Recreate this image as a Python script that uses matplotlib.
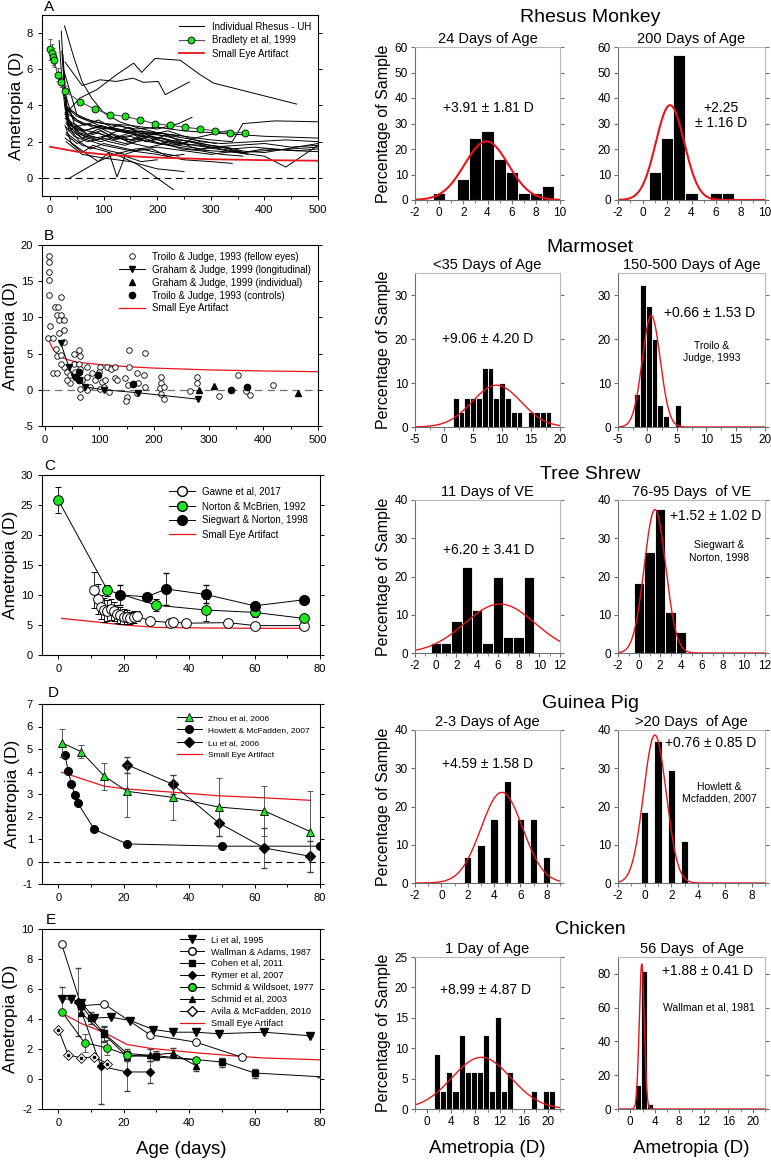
import numpy as np
import matplotlib
matplotlib.use('Agg')
import matplotlib.pyplot as plt
from matplotlib.ticker import AutoMinorLocator
from matplotlib.lines import Line2D

plt.rcParams['font.family'] = ['Liberation Sans', 'DejaVu Sans']
plt.rcParams['axes.unicode_minus'] = False

# ---------------- data: left column (ametropia vs age) ----------------
# A - rhesus monkey, individual UH animals (age in days, ametropia in D)
rhesus_uh_age = [
    [27, 45, 60, 78, 100, 130, 160, 200, 240],
    [21, 25, 30, 35, 50, 70, 90, 120, 150, 180, 210],
    [17, 22, 28, 35, 60, 90, 120, 150, 190, 230, 260],
    [28, 55, 87, 124, 156, 171, 196, 243, 280, 305, 460],
    [28, 60, 93, 124, 155, 174, 202, 215, 260],
    [30, 60, 100, 150, 200, 250, 300, 340, 360, 420, 500],
    [25, 50, 80, 120, 160, 200, 250, 300, 350, 400, 450, 500],
    [30, 45, 70, 100, 140, 180, 220, 260, 300, 350, 400, 440, 460, 500],
    [34, 60, 90, 120, 160, 200, 250, 300, 350, 400, 500],
    [30, 60, 100, 130, 160, 190, 230],
    [28, 60, 90, 110, 125, 140, 170, 200],
    [30, 60, 100, 150, 200, 250],
    [30, 60, 100, 150, 200, 250, 300, 340],
    [28, 60, 100, 150, 200, 240, 265],
    [22, 30, 50, 80, 110, 140, 170, 200, 230, 260, 300, 340, 380, 420, 460, 500],
    [25, 35, 55, 85, 120, 160, 200, 240, 280, 320, 360, 400, 450, 500],
    [30, 45, 65, 95, 130, 170, 210, 250, 290, 330, 370],
    [28, 40, 60, 90, 120, 150, 180, 210, 240, 280, 320, 360, 400, 460, 500],
    [26, 35, 55, 75, 100, 130, 160, 190, 220, 250],
    [28, 45, 70, 100, 130, 160, 190, 230, 270, 310],
    [24, 32, 50, 70, 95, 125, 155, 185, 215, 245, 280, 320, 360],
    [30, 50, 80, 110, 140, 170, 200, 230, 260, 300, 350, 400, 450, 500],
    [32, 50, 75, 100, 130, 160, 190, 220, 250, 280, 320, 380, 440, 500],
    [28, 40, 60, 80, 110, 140, 170, 200, 240],
    [26, 34, 50, 70, 95, 120, 150, 180, 210, 240, 270, 300, 330],
    [30, 55, 85, 115, 145, 175, 205, 235, 265, 295],
    [29, 38, 58, 88, 118, 148, 178, 208, 238, 268, 298, 328, 358],
    [25, 30, 45, 65, 90, 115, 140, 165, 190],
]
rhesus_uh_ame = [
    [8.4, 6.6, 5.3, 4.4, 3.6, 3.1, 2.8, 2.5, 2.3],
    [8.1, 6.0, 3.5, 2.6, 2.9, 2.4, 2.7, 2.2, 2.5, 2.0, 2.3],
    [7.6, 5.5, 3.8, 3.0, 2.6, 2.8, 2.4, 2.1, 2.3, 2.0, 1.8],
    [3.5, 4.4, 4.87, 5.7, 6.34, 5.83, 6.6, 6.5, 5.7, 5.24, 4.08],
    [6.4, 5.1, 5.42, 5.33, 5.51, 5.28, 5.33, 4.6, 5.3],
    [3.6, 3.0, 2.8, 2.6, 2.5, 2.3, 2.1, 2.0, 3.0, 3.15, 3.1],
    [6.0, 3.5, 3.1, 2.9, 2.7, 2.8, 2.6, 2.5, 2.4, 2.3, 2.25, 2.2],
    [2.8, 2.3, 2.0, 2.2, 1.9, 2.1, 1.8, 1.6, 1.5, 1.4, 1.2, 0.6, 1.0, 1.8],
    [-0.05, 0.4, 0.9, 1.3, 1.6, 1.7, 1.5, 1.3, 1.5, 1.4, 1.9],
    [2.5, 1.8, 1.5, 1.2, 0.8, 0.2, -0.65],
    [2.2, 1.5, 0.9, 1.4, 0.05, 1.2, 0.9, 1.0],
    [2.0, 1.3, 1.1, 0.9, 0.5, 0.35],
    [3.0, 2.2, 1.8, 1.5, 1.3, 1.0, 0.9, 0.8],
    [4.0, 3.3, 3.0, 2.9, 2.7, 3.0, 3.35],
    [7.0, 3.8, 3.2, 2.8, 2.7, 2.5, 2.6, 2.4, 2.2, 2.0, 1.8, 1.6, 1.7, 1.6, 1.5, 1.45],
    [5.5, 3.2, 2.7, 2.5, 2.2, 2.4, 2.1, 1.9, 1.8, 1.6, 1.4, 1.5, 1.6, 1.7],
    [4.5, 3.0, 2.6, 2.9, 2.6, 2.3, 2.2, 1.9, 1.7, 1.5, 1.3],
    [3.6, 2.6, 2.2, 2.5, 2.1, 2.3, 2.0, 2.2, 1.8, 1.6, 1.7, 1.4, 1.6, 1.5, 1.6],
    [5.0, 2.8, 2.0, 1.6, 1.9, 1.7, 1.5, 1.6, 1.2, 1.3],
    [3.3, 2.8, 3.0, 2.7, 2.9, 2.6, 2.4, 2.3, 2.1, 1.9],
    [6.8, 3.4, 2.5, 2.2, 2.0, 2.3, 1.9, 1.7, 1.9, 1.6, 1.5, 1.3, 1.2],
    [2.4, 1.9, 2.3, 2.0, 1.8, 2.1, 1.9, 1.8, 2.0, 1.7, 1.8, 1.9, 1.7, 1.8],
    [3.9, 3.4, 3.1, 2.8, 2.6, 2.5, 2.4, 2.6, 2.3, 2.0, 1.9, 2.0, 2.1, 2.0],
    [2.9, 1.9, 1.4, 1.8, 1.5, 1.3, 1.6, 1.4, 1.2],
    [4.8, 3.0, 2.7, 2.4, 2.6, 2.2, 2.1, 2.4, 2.0, 1.8, 2.2, 2.4, 2.6],
    [3.1, 2.5, 2.2, 2.4, 2.0, 2.2, 1.9, 2.1, 1.7, 1.5],
    [3.4, 3.0, 2.4, 2.1, 2.5, 2.8, 2.3, 2.5, 2.1, 2.0, 1.8, 1.7, 1.5],
    [5.8, 4.0, 3.2, 2.9, 3.2, 2.8, 2.6, 2.4, 2.5],
]
bradley_age = [0, 3, 6, 8, 14, 21, 28, 56, 84, 112, 140, 168, 196, 224, 252, 280, 308, 336, 364]
bradley_ame = [7.1, 6.9, 6.7, 6.5, 5.7, 5.3, 4.8, 4.2, 3.8, 3.5, 3.4, 3.2, 3.0, 2.9, 2.8, 2.7, 2.6, 2.5, 2.5]
bradley_err = [0.6, 0.5, 0.45, 0.4, 0.35, 0.3, 0.3, 0, 0, 0, 0, 0, 0, 0, 0, 0, 0, 0, 0]
artifact_a_age = [0, 50, 100, 150, 200, 250, 300, 400, 500]
artifact_a_ame = [1.72, 1.45, 1.3, 1.2, 1.12, 1.08, 1.03, 0.98, 0.95]

# B - marmoset
troilo_fellow_age = [7, 7, 7, 7, 7, 10, 6, 15, 19, 24, 29, 22, 29, 26, 35, 35, 27, 35, 21, 23,
                     16, 23, 29, 35, 29, 41, 47, 47, 53, 53, 62, 65, 62, 65, 56, 56, 68, 65,
                     65, 78, 77, 86, 102, 100, 92, 83, 105, 111, 108, 114, 122, 129, 129, 132,
                     118, 147, 152, 150, 149, 155, 155, 168, 170, 168, 184, 181, 184, 212, 213,
                     211, 213, 218, 219, 265, 278, 278, 319, 354, 369, 375, 418, 102, 77, 41]
troilo_fellow_ame = [18.5, 17.6, 16.3, 15.1, 13.1, 8.8, 7.1, 7.1, 11.5, 11.5, 12.8, 10.3, 10.3,
                     9.6, 9.6, 8.2, 7.8, 6.6, 5.7, 4.6, 2.3, 2.3, 4.8, 3.2, 3.6, 2.5, 2.0, 0.9,
                     3.6, 5.0, 5.5, 4.6, 3.6, 2.9, 2.5, 1.7, 1.3, 0.05, -1.06, 3.1, 1.7, 2.3,
                     3.1, 2.5, 1.3, 0.4, 1.1, 1.3, 0.4, 3.2, 2.9, 3.2, 1.6, 1.3, -0.3, 1.6, 0.6,
                     -1.0, -1.5, 5.5, 3.2, 2.3, 0.9, -0.5, 5.1, 2.0, 0.4, 1.8, 0.9, 0.2, -0.6,
                     -1.3, 0.4, -0.1, 1.8, 0.9, -0.8, 2.1, -0.1, -0.7, 0.6, 0.05, -0.05, 1.3]
graham_long_age = [29, 44, 53, 58, 62, 74, 108, 170, 280]
graham_long_ame = [6.5, 3.2, 1.7, 1.6, 1.4, 0.4, 0.0, -0.4, -1.3]
graham_ind_age = [283, 310, 463]
graham_ind_ame = [0.0, 0.55, -0.4]
troilo_ctrl_age = [62, 62, 98, 162, 341, 370]
troilo_ctrl_ame = [2.4, 1.4, 2.1, 0.8, 0.0, 0.4]
artifact_b_age = [7, 15, 25, 40, 60, 100, 150, 200, 300, 400, 500]
artifact_b_ame = [6.9, 5.6, 4.8, 4.2, 3.8, 3.5, 3.2, 3.0, 2.75, 2.6, 2.5]

# C - tree shrew (days of visual experience)
gawne_age = [11, 12, 13, 14, 15, 16, 17, 18, 19, 20, 21, 22, 23, 24, 28, 34, 35, 39, 52, 60, 75]
gawne_ame = [10.8, 9.4, 8.0, 7.5, 7.4, 7.6, 7.3, 6.9, 6.6, 6.4, 6.3, 6.2, 6.4, 6.5, 5.7, 5.4,
             5.5, 5.3, 5.4, 4.9, 4.9]
gawne_err = [3.0, 2.5, 2.0, 2.0, 1.8, 1.8, 1.6, 1.5, 1.4, 1.2, 1.2, 1.0, 1.0, 0.9, 0, 0, 0, 0, 0, 0, 0]
norton_age = [0, 15, 30, 45, 60, 75]
norton_ame = [25.8, 10.8, 8.3, 7.5, 7.1, 6.1]
norton_err = [2.2, 0.9, 1.0, 1.8, 0.7, 0.3]
siegwart_age = [19, 27, 33, 45, 60, 75]
siegwart_ame = [10.0, 9.7, 11.0, 10.1, 8.2, 9.2]
siegwart_err = [1.7, 0.4, 2.7, 1.5, 0.4, 0]
artifact_c_age = [1, 10, 20, 30, 45, 60, 75]
artifact_c_ame = [6.1, 5.6, 5.0, 4.6, 4.5, 4.45, 4.45]

# D - guinea pig
zhou_age = [1, 7, 14, 21, 35, 49, 63, 77]
zhou_ame = [5.28, 4.88, 3.8, 3.12, 2.85, 2.42, 2.25, 1.33]
zhou_err = [0.62, 0.28, 0.6, 1.15, 1.0, 1.3, 1.1, 1.8]
howlett_age = [2, 3, 4, 5, 6, 11, 21, 50, 80]
howlett_ame = [4.72, 4.04, 3.44, 2.97, 2.58, 1.43, 0.78, 0.68, 0.68]
lu_age = [21, 35, 49, 63, 77]
lu_ame = [4.3, 3.43, 1.72, 0.6, 0.23]
lu_err = [0.36, 0.42, 0.58, 0.88, 0.7]
artifact_d_age = [1, 14, 21, 35, 49, 63, 77]
artifact_d_ame = [3.97, 3.35, 3.22, 3.08, 2.92, 2.83, 2.72]

# E - chicken
li_age = [1, 4, 7, 11, 16, 22, 29, 35, 42, 49, 63, 77]
li_ame = [5.32, 5.34, 5.1, 4.06, 4.12, 3.9, 3.3, 3.12, 3.12, 3.02, 3.12, 2.88]
li_err = [0.8, 0, 0, 0, 0, 0, 0, 0, 0, 0, 0, 0]
wallman_age = [1, 7, 14, 28, 42, 56]
wallman_ame = [9.0, 4.88, 5.0, 2.95, 2.46, 1.46]
cohen_age = [7, 10, 14, 21, 30, 50, 60, 80]
cohen_ame = [4.9, 4.06, 3.05, 1.7, 1.55, 1.13, 0.4, 0.15]
cohen_err = [0, 0.4, 0.5, 0.3, 0.3, 0.3, 0.3, 0]
rymer_age = [6, 13, 21, 28]
rymer_ame = [5.15, 0.85, 0.47, 0.47]
rymer_err = [2.25, 2.5, 1.25, 0.75]
schmid_w_age = [1, 8, 15, 21, 42]
schmid_w_ame = [4.5, 2.42, 2.07, 1.6, 1.28]
schmid_w_err = [0, 0.6, 0.5, 0.3, 0.2]
schmid03_age = [7, 14, 21, 28, 35, 42]
schmid03_ame = [4.4, 2.97, 1.5, 1.58, 1.73, 0.9]
schmid03_err = [0, 0.5, 0.3, 0.4, 0.35, 0.35]
avila_age = [0, 3, 7, 11, 15]
avila_ame = [3.3, 1.62, 1.4, 1.48, 1.02]
artifact_e_age = [1, 7, 14, 21, 28, 42, 56, 63, 80]
artifact_e_ame = [4.4, 3.7, 3.1, 2.3, 2.05, 1.75, 1.5, 1.4, 1.28]

# ---------------- data: histograms (percentage of sample) ----------------
rh24_bin = [0, 2, 3, 4, 5, 6, 7, 8, 9]
rh24_pct = [2.7, 8.1, 24.3, 27.0, 16.2, 10.8, 2.7, 2.7, 5.4]
rh200_bin = [1, 2, 3, 4, 6, 7]
rh200_pct = [10.8, 24.3, 56.8, 2.7, 2.7, 2.7]
mm35_bin = [2, 3, 4, 5, 6, 7, 8, 9, 10, 11, 12, 13, 15, 16, 17, 18]
mm35_pct = [6.6, 3.3, 6.6, 6.6, 6.6, 13.3, 13.3, 6.6, 10, 6.6, 3.3, 3.3, 3.3, 3.3, 3.3, 3.3]
mm150_bin = [-1.8, -0.8, 0.2, 1.2, 2.2, 3.2, 5.2]
mm150_pct = [7.4, 32.3, 27.4, 19.9, 4.9, 2.4, 4.9]
ts11_bin = [0, 1, 2, 3, 4, 5, 6, 7, 8, 9]
ts11_pct = [2.7, 2.7, 8.3, 22.6, 11.3, 2.7, 20, 4.2, 4.3, 20]
ts76_bin = [0, 1, 2, 3, 4]
ts76_pct = [18.4, 26.5, 37.6, 10.8, 5.4]
gp2_bin = [2, 3, 4, 5, 6, 7, 8]
gp2_pct = [6.7, 10, 16.7, 26.7, 16.7, 16.7, 6.7]
gp20_bin = [0, 1, 2, 3]
gp20_pct = [18.5, 37, 29.6, 11.1]
ck1_bin = [1.7, 2.7, 3.7, 4.7, 5.7, 6.7, 7.7, 8.7, 9.7, 10.7, 11.7, 12.7, 13.7, 17.7, 19.7, 20.7]
ck1_pct = [9.1, 3.0, 6.1, 3.0, 12.1, 6.1, 6.1, 6.1, 12.1, 3.0, 15.2, 3.0, 6.1, 3.0, 3.0, 3.0]
ck56_bin = [1.2, 2.2, 3.2]
ck56_pct = [14.2, 82, 3.1]

# gaussian fits: mean, sd, peak height
fit_rh24 = (3.91, 1.81, 23)
fit_rh200 = (2.25, 1.16, 37.2)
fit_mm35 = (9.06, 4.20, 9.5)
fit_mm150 = (0.66, 1.53, 25.3)
fit_ts11 = (6.20, 3.41, 12.8)
fit_ts76 = (1.52, 1.02, 37.5)
fit_gp2 = (4.59, 1.58, 23.7)
fit_gp20 = (0.76, 0.85, 38.7)
fit_ck1 = (8.99, 4.87, 8.5)
fit_ck56 = (1.88, 0.41, 86)

# ---------------- figure ----------------
W, H = 771, 1161
fig = plt.figure(figsize=(W / 100, H / 100), dpi=100)

GREEN = '#1ee61e'
RED = '#e8141c'


def box(x0, y0, x1, y1):
    return fig.add_axes([x0 / W, 1 - y1 / H, (x1 - x0) / W, (y1 - y0) / H])


def style_left(ax, xlim, ylim, xticks, yticks):
    ax.set_xlim(xlim)
    ax.set_ylim(ylim)
    ax.set_xticks(xticks)
    ax.set_yticks(yticks)
    ax.xaxis.set_minor_locator(AutoMinorLocator(2))
    ax.tick_params(which='both', direction='out', labelsize=8, right=True, width=0.7)
    ax.tick_params(which='major', length=3)
    ax.tick_params(which='minor', length=2)
    ax.set_ylabel('Ametropia (D)', fontsize=12.5, labelpad=2)
    for sp in ax.spines.values():
        sp.set_linewidth(0.8)


def hist_panel(ax, bins, pct, width, fit, xlim, ylim, xticks, yticks, title, lw=1.0):
    ax.bar(bins, pct, width=width, color='black', edgecolor='white', linewidth=0.6)
    m, s, amp = fit
    xs = np.linspace(xlim[0], xlim[1], 400)
    ax.plot(xs, amp * np.exp(-0.5 * ((xs - m) / s) ** 2), color=RED, lw=lw)
    ax.set_xlim(xlim)
    ax.set_ylim(ylim)
    ax.set_xticks(xticks)
    ax.set_yticks(yticks)
    ax.xaxis.set_minor_locator(AutoMinorLocator(2))
    for side in ['top', 'right']:
        ax.spines[side].set_color('#b8b8b8')
    for side in ['left', 'bottom']:
        ax.spines[side].set_color('#707070')
    for sp in ax.spines.values():
        sp.set_linewidth(0.8)
    ax.tick_params(which='both', direction='out', color='#707070', labelsize=8.5, right=True, pad=2)
    ax.tick_params(which='major', length=3)
    ax.tick_params(which='minor', length=2)
    ax.set_title(title, fontsize=10.5, pad=3)


def panel_letter(x, y, s):
    fig.text(x / W, 1 - y / H, s, fontsize=11, ha='left', va='center')


# ---- A
axA = box(42, 15, 318, 196)
for ages, vals in zip(rhesus_uh_age, rhesus_uh_ame):
    axA.plot(ages, vals, color='black', lw=0.7)
axA.plot(artifact_a_age, artifact_a_ame, color=RED, lw=1.3)
axA.errorbar(bradley_age, bradley_ame, yerr=bradley_err, color='#505050', lw=0.8,
             marker='o', ms=5, mfc=GREEN, mec='black', mew=0.6, capsize=1.5,
             elinewidth=0.6, zorder=5)
axA.axhline(0, color='black', lw=0.8, ls=(0, (6, 4)))
style_left(axA, (-15, 500), (-1, 9), range(0, 501, 100), range(0, 9, 2))
hA = [Line2D([], [], color='black', lw=0.8),
      Line2D([], [], color='#505050', lw=0.8, marker='o', ms=5, mfc=GREEN, mec='black', mew=0.6),
      Line2D([], [], color=RED, lw=1.3)]
axA.legend(hA, ['Individual Rhesus - UH', 'Bradlety et al, 1999', 'Small Eye Artifact'],
           loc='upper right', frameon=False, fontsize=7, handlelength=2.6,
           labelspacing=0.35, borderaxespad=0.3, bbox_to_anchor=(1.0, 1.0))
panel_letter(44, 7, 'A')

# ---- B
axB = box(42, 245, 318, 426)
axB.plot(artifact_b_age, artifact_b_ame, color=RED, lw=0.9)
axB.axhline(0, color='#707070', lw=0.9, ls=(0, (6, 4)))
axB.plot(troilo_fellow_age, troilo_fellow_ame, ls='none', marker='o', ms=4, mfc='white',
         mec='black', mew=0.6)
axB.plot(graham_long_age, graham_long_ame, color='black', lw=0.7, marker='v', ms=4.5)
axB.plot(graham_ind_age, graham_ind_ame, ls='none', color='black', marker='^', ms=4.5)
axB.plot(troilo_ctrl_age, troilo_ctrl_ame, ls='none', color='black', marker='o', ms=4.5)
style_left(axB, (-5, 500), (-5, 20), range(0, 501, 100), range(-5, 21, 5))
hB = [Line2D([], [], ls='none', marker='o', ms=4, mfc='white', mec='black', mew=0.6),
      Line2D([], [], color='black', lw=0.7, marker='v', ms=4.5),
      Line2D([], [], ls='none', color='black', marker='^', ms=4.5),
      Line2D([], [], ls='none', color='black', marker='o', ms=4.5),
      Line2D([], [], color=RED, lw=0.9)]
axB.legend(hB, ['Troilo & Judge, 1993 (fellow eyes)', 'Graham & Judge, 1999 (longitudinal)',
                'Graham & Judge, 1999 (individual)', 'Troilo & Judge, 1993 (controls)',
                'Small Eye Artifact'],
           loc='upper right', frameon=False, fontsize=7, handlelength=2.6,
           labelspacing=0.3, borderaxespad=0.3)
panel_letter(44, 236, 'B')

# ---- C
axC = box(42, 475, 320, 655)
axC.plot(artifact_c_age, artifact_c_ame, color=RED, lw=0.9)
axC.errorbar(gawne_age, gawne_ame, yerr=gawne_err, color='black', lw=0.7, marker='o', ms=7,
             mfc='white', mec='black', mew=0.7, capsize=2, elinewidth=0.6, zorder=4)
axC.errorbar(norton_age, norton_ame, yerr=norton_err, color='black', lw=0.7, marker='o', ms=7,
             mfc=GREEN, mec='black', mew=0.7, capsize=2, elinewidth=0.6, zorder=5)
axC.errorbar(siegwart_age, siegwart_ame, yerr=siegwart_err, color='black', lw=0.7, marker='o',
             ms=7, mfc='black', mec='black', capsize=2, elinewidth=0.6, zorder=5)
style_left(axC, (-5, 80), (0, 30), range(0, 81, 20), range(0, 31, 5))
hC = [Line2D([], [], color='black', lw=0.7, marker='o', ms=7, mfc='white', mec='black'),
      Line2D([], [], color='black', lw=0.7, marker='o', ms=7, mfc=GREEN, mec='black'),
      Line2D([], [], color='black', lw=0.7, marker='o', ms=7, mfc='black', mec='black'),
      Line2D([], [], color=RED, lw=0.9)]
axC.legend(hC, ['Gawne et al, 2017', 'Norton & McBrien, 1992', 'Siegwart & Norton, 1998',
                'Small Eye Artifact'],
           loc='upper right', frameon=False, fontsize=7, handlelength=2.6,
           labelspacing=0.45, borderaxespad=0.8)
panel_letter(44, 466, 'C')

# ---- D
axD = box(42, 704, 320, 884)
axD.plot(artifact_d_age, artifact_d_ame, color=RED, lw=0.9)
axD.axhline(0, color='black', lw=0.8, ls=(0, (6, 4)))
axD.errorbar(zhou_age, zhou_ame, yerr=zhou_err, color='black', lw=0.7, marker='^', ms=6,
             mfc=GREEN, mec='black', mew=0.6, capsize=2.5, elinewidth=0.6, ecolor='#404040', zorder=5)
axD.plot(howlett_age, howlett_ame, color='black', lw=0.7, marker='o', ms=5.5, zorder=4)
axD.errorbar(lu_age, lu_ame, yerr=lu_err, color='black', lw=0.7, marker='D', ms=5,
             capsize=2.5, elinewidth=0.6, ecolor='#404040', zorder=4)
style_left(axD, (-5, 80), (-1, 7), range(0, 81, 20), range(-1, 8, 1))
hD = [Line2D([], [], color='black', lw=0.7, marker='^', ms=6, mfc=GREEN, mec='black', mew=0.6),
      Line2D([], [], color='black', lw=0.7, marker='o', ms=5.5),
      Line2D([], [], color='black', lw=0.7, marker='D', ms=5),
      Line2D([], [], color=RED, lw=0.9)]
axD.legend(hD, ['Zhou et al, 2006', 'Howlett & McFadden, 2007', 'Lu et al, 2006',
                'Small Eye Artifact'],
           loc='upper right', frameon=False, fontsize=6, handlelength=3,
           labelspacing=0.55, borderaxespad=0.8)
panel_letter(48, 693, 'D')

# ---- E
axE = box(42, 929, 320, 1109)
axE.plot(artifact_e_age, artifact_e_ame, color=RED, lw=0.9)
axE.errorbar(li_age, li_ame, yerr=li_err, color='black', lw=0.7, marker='v', ms=5.5,
             capsize=2.5, elinewidth=0.6, ecolor='#404040', zorder=4)
axE.plot(wallman_age, wallman_ame, color='black', lw=0.7, marker='o', ms=5.5, mfc='white',
         mec='black', mew=0.7, zorder=4)
axE.errorbar(cohen_age, cohen_ame, yerr=cohen_err, color='black', lw=0.7, marker='s', ms=5,
             markevery=list(range(len(cohen_age) - 1)), capsize=2.5, elinewidth=0.6,
             ecolor='#404040', zorder=4)
axE.errorbar(rymer_age, rymer_ame, yerr=rymer_err, color='black', lw=0.7, marker='D', ms=4.5,
             capsize=2.5, elinewidth=0.6, ecolor='#404040', zorder=4)
axE.errorbar(schmid_w_age, schmid_w_ame, yerr=schmid_w_err, color='black', lw=0.7, marker='o',
             ms=5.5, mfc=GREEN, mec='black', mew=0.6, capsize=2.5, elinewidth=0.6,
             ecolor='#404040', zorder=5)
axE.errorbar(schmid03_age, schmid03_ame, yerr=schmid03_err, color='black', lw=0.7, marker='^',
             ms=5, capsize=2.5, elinewidth=0.6, ecolor='#404040', zorder=4)
axE.plot(avila_age, avila_ame, color='black', lw=0.7, marker='D', ms=5, mfc='white',
         mec='black', mew=0.6, zorder=5)
axE.plot(avila_age, avila_ame, ls='none', marker='o', ms=1.6, color='black', zorder=6)
style_left(axE, (-5, 80), (-2, 10), range(0, 81, 20), range(-2, 11, 2))
axE.set_xlabel('Age (days)', fontsize=13.5, labelpad=9)
hE = [Line2D([], [], color='black', lw=0.7, marker='v', ms=5.5),
      Line2D([], [], color='black', lw=0.7, marker='o', ms=5.5, mfc='white', mec='black'),
      Line2D([], [], color='black', lw=0.7, marker='s', ms=5),
      Line2D([], [], color='black', lw=0.7, marker='D', ms=4.5),
      Line2D([], [], color='black', lw=0.7, marker='o', ms=5.5, mfc=GREEN, mec='black'),
      Line2D([], [], color='black', lw=0.7, marker='^', ms=5),
      Line2D([], [], color='black', lw=0.7, marker='D', ms=5, mfc='white', mec='black'),
      Line2D([], [], color=RED, lw=0.9)]
axE.legend(hE, ['Li et al, 1995', 'Wallman & Adams, 1987', 'Cohen et al, 2011',
                'Rymer et al, 2007', 'Schmid & Wildsoet, 1977', 'Schmid et al, 2003',
                'Avila & McFadden, 2010', 'Small Eye Artifact'],
           loc='upper right', frameon=False, fontsize=6.6, handlelength=2.6,
           labelspacing=0.32, borderaxespad=0.3)
panel_letter(46, 920, 'E')

# ---------------- histograms ----------------
L0, L1, R0, R1 = 415, 560, 618, 765

# rhesus
a = box(L0, 47, L1, 200)
hist_panel(a, rh24_bin, rh24_pct, 1.0, fit_rh24, (-2, 10), (0, 60), range(-2, 11, 2),
           range(0, 61, 10), '24 Days of Age', lw=1.5)
a.text(4.07, 36.2, '+3.91 ± 1.81 D', fontsize=10, ha='center', va='center')
a.set_ylabel('Percentage of Sample', fontsize=11.5, labelpad=3)
a = box(R0, 47, R1, 200)
hist_panel(a, rh200_bin, rh200_pct, 1.0, fit_rh200, (-2, 10), (0, 60), range(-2, 11, 2),
           range(0, 61, 10), '200 Days of Age', lw=1.5)
a.text(6.4, 33, '+2.25\n± 1.16 D', fontsize=10, ha='center', va='center', linespacing=1.1)
fig.text((L0 + R1) / 2 / W, 1 - 18 / H, 'Rhesus Monkey', fontsize=14, ha='center', va='center')

# marmoset
a = box(L0, 273, L1, 427)
hist_panel(a, mm35_bin, mm35_pct, 1.0, fit_mm35, (-5, 20), (0, 35), range(-5, 21, 5),
           range(0, 31, 10), '<35 Days of Age')
a.text(7.6, 20, '+9.06 ± 4.20 D', fontsize=10, ha='center', va='center')
a.set_ylabel('Percentage of Sample', fontsize=11.5, labelpad=3)
a = box(R0, 273, R1, 427)
hist_panel(a, mm150_bin, mm150_pct, 1.0, fit_mm150, (-5, 20), (0, 35), range(-5, 21, 5),
           range(0, 31, 10), '150-500 Days of Age')
a.text(10.6, 26, '+0.66 ± 1.53 D', fontsize=10, ha='center', va='center')
a.text(10.9, 17, 'Troilo &\nJudge, 1993', fontsize=7.5, ha='center', va='center', linespacing=1.3)
fig.text((L0 + R1) / 2 / W, 1 - 247 / H, 'Marmoset', fontsize=14, ha='center', va='center')

# tree shrew
a = box(L0, 500, L1, 653)
hist_panel(a, ts11_bin, ts11_pct, 1.0, fit_ts11, (-2, 12), (0, 40), range(-2, 13, 2),
           range(0, 41, 10), '11 Days of VE')
a.text(5.1, 27, '+6.20 ± 3.41 D', fontsize=10, ha='center', va='center')
a.set_ylabel('Percentage of Sample', fontsize=11.5, labelpad=3)
a = box(R0, 500, R1, 653)
hist_panel(a, ts76_bin, ts76_pct, 1.0, fit_ts76, (-2, 12), (0, 40), range(-2, 13, 2),
           range(0, 41, 10), '76-95 Days  of VE')
a.text(7.3, 35.8, '+1.52 ± 1.02 D', fontsize=10, ha='center', va='center')
a.text(7.6, 26.5, 'Siegwart &\nNorton, 1998', fontsize=7.5, ha='center', va='center', linespacing=1.3)
fig.text((L0 + R1) / 2 / W, 1 - 475 / H, 'Tree Shrew', fontsize=14, ha='center', va='center')

# guinea pig
a = box(L0, 730, L1, 883)
hist_panel(a, gp2_bin, gp2_pct, 0.55, fit_gp2, (-2, 9), (0, 40), range(-2, 9, 2),
           range(0, 41, 10), '2-3 Days of Age')
a.text(3.5, 31, '+4.59 ± 1.58 D', fontsize=10, ha='center', va='center')
a.set_ylabel('Percentage of Sample', fontsize=11.5, labelpad=3)
a = box(R0, 730, R1, 883)
hist_panel(a, gp20_bin, gp20_pct, 0.55, fit_gp20, (-2, 9), (0, 40), range(-2, 9, 2),
           range(0, 41, 10), '>20 Days  of Age')
a.text(4.93, 36.7, '+0.76 ± 0.85 D', fontsize=10, ha='center', va='center')
a.text(5.55, 23.6, 'Howlett &\nMcfadden, 2007', fontsize=7.5, ha='center', va='center', linespacing=1.3)
fig.text((L0 + R1) / 2 / W, 1 - 703 / H, 'Guinea Pig', fontsize=14, ha='center', va='center')

# chicken
a = box(L0, 957, L1, 1109)
hist_panel(a, ck1_bin, ck1_pct, 1.0, fit_ck1, (-2, 22), (0, 25), range(0, 21, 4),
           range(0, 26, 5), '1 Day of Age')
a.text(9.6, 19.65, '+8.99 ± 4.87 D', fontsize=10, ha='center', va='center')
a.set_ylabel('Percentage of Sample', fontsize=11.5, labelpad=3)
a.set_xlabel('Ametropia (D)', fontsize=13.5, labelpad=9)
a = box(R0, 957, R1, 1109)
hist_panel(a, ck56_bin, ck56_pct, 1.0, fit_ck56, (-2, 22), (0, 90), range(0, 21, 4),
           range(0, 81, 20), '56 Days  of Age')
a.text(12.6, 81.6, '+1.88 ± 0.41 D', fontsize=10, ha='center', va='center')
a.text(12.85, 60, 'Wallman et al, 1981', fontsize=7.5, ha='center', va='center')
a.set_xlabel('Ametropia (D)', fontsize=13.5, labelpad=9)
fig.text((L0 + R1) / 2 / W, 1 - 930 / H, 'Chicken', fontsize=14, ha='center', va='center')

fig.savefig('out.png', dpi=100)
